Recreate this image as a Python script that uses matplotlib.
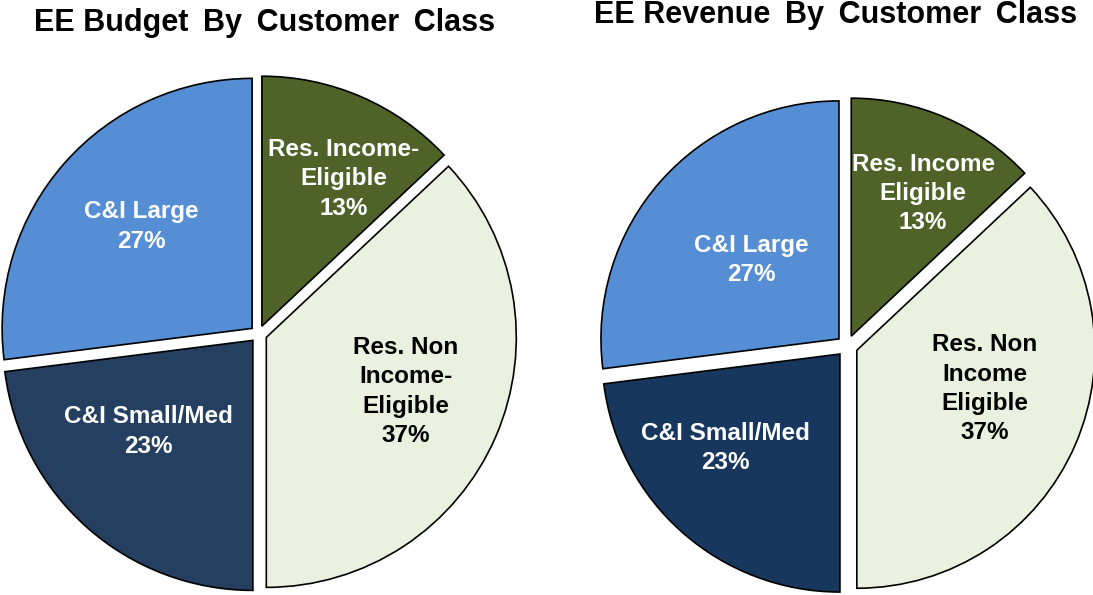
"""Two exploded pies: EE budget vs revenue by customer class"""
from matplotlib import pyplot as plt

W, H = 1093, 595

# slice order: clockwise from 12 o'clock
BUDGET_LABELS = ["Res. Income-\nEligible", "Res. Non\nIncome-\nEligible",
                 "C&I Small/Med", "C&I Large"]
BUDGET_SHARES = [13, 37, 23, 27]
REVENUE_LABELS = ["Res. Income\nEligible", "Res. Non\nIncome\nEligible",
                  "C&I Small/Med", "C&I Large"]
REVENUE_SHARES = [13, 37, 23, 27]

BUDGET_COLORS = ["#4F6228", "#EBF1DE", "#243F60", "#558ED5"]
REVENUE_COLORS = ["#4F6228", "#EBF1DE", "#17375E", "#558ED5"]
TEXT_COLORS = ["white", "black", "white", "white"]

# label anchor, relative to pie centre in radius units
BUDGET_TEXT_POS = [(0.34, 0.62), (0.59, -0.23), (-0.44, -0.39), (-0.47, 0.43)]
REVENUE_TEXT_POS = [(0.32, 0.64), (0.58, -0.18), (-0.51, -0.43), (-0.40, 0.36)]

FONT = ["Liberation Sans", "DejaVu Sans"]
GAP = " \u2009"  # the titles use slightly wide word gaps


def pie_axes(fig, cx, cy, radius, lim=1.12):
    """Axes whose data unit equals radius pixels, centred on (cx, cy) image px"""
    size = 2 * lim * radius
    left = (cx - lim * radius) / W
    bottom = (H - cy - lim * radius) / H
    ax = fig.add_axes([left, bottom, size / W, size / H])
    return ax, lim


def draw_pie(ax, lim, shares, labels, colors, text_pos, explode):
    wedges, _ = ax.pie(
        shares,
        colors=colors,
        startangle=90,
        counterclock=False,
        explode=[explode] * len(shares),
        wedgeprops=dict(edgecolor="black", linewidth=1.2),
    )
    for w in wedges:
        w.set_clip_on(False)
    for label, share, (x, y), tc in zip(labels, shares, text_pos, TEXT_COLORS):
        ax.text(x, y, f"{label}\n{share}%", ha="center", va="center",
                color=tc, fontsize=17.5, fontweight="bold", family=FONT,
                linespacing=1.35)
    ax.set_xlim(-lim, lim)
    ax.set_ylim(-lim, lim)
    ax.set_aspect("auto")
    ax.axis("off")


fig = plt.figure(figsize=(W / 100, H / 100), dpi=100)

ax_left, lim = pie_axes(fig, 258.5, 334, 250)
draw_pie(ax_left, lim, BUDGET_SHARES, BUDGET_LABELS, BUDGET_COLORS,
         BUDGET_TEXT_POS, 0.034)

ax_right, lim = pie_axes(fig, 847, 346, 238)
draw_pie(ax_right, lim, REVENUE_SHARES, REVENUE_LABELS, REVENUE_COLORS,
         REVENUE_TEXT_POS, 0.045)

fig.text(264.5 / W, 1 - 23 / H, GAP.join(["EE Budget", "By", "Customer", "Class"]),
         ha="center", va="center", fontsize=22, fontweight="bold", family=FONT)
fig.text(836 / W, 1 - 15 / H, GAP.join(["EE Revenue", "By", "Customer", "Class"]),
         ha="center", va="center", fontsize=22, fontweight="bold", family=FONT)

fig.savefig("out.png", dpi=100)
